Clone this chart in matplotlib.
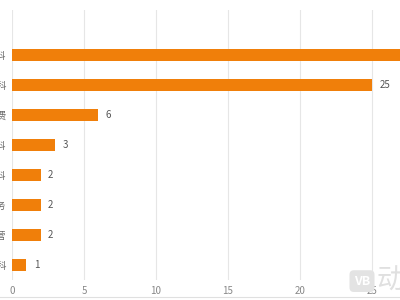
import matplotlib
matplotlib.use('Agg')
import matplotlib.pyplot as plt
import numpy as np

plt.rcParams['font.family'] = ['Noto Sans CJK SC', 'DejaVu Sans']

# Data (labels are cropped in the original; only the last characters show)
categories = ['外科', '内科', '医疗费', '儿科', '妇科', '服务', '经营', '眼科']
values = [30, 25, 6, 3, 2, 2, 2, 1]
xticks = [0, 5, 10, 15, 20, 25]

bar_color = '#F07F0A'

fig = plt.figure(figsize=(4, 3), dpi=100)
# axes runs past the right edge, like the cropped screenshot
ax = fig.add_axes([12 / 400, 20 / 300, 30 * 14.4 / 400, 270 / 300])

y = np.arange(len(categories))
bars = ax.barh(y, values, height=0.37, color=bar_color, zorder=3)

for yy, v in zip(y, values):
    ax.text(v + 0.5, yy, str(v), va='center', ha='left', fontsize=7, color='#555555')

ax.set_xlim(0, 30)
ax.set_ylim(7.5, -1.5)
ax.set_yticks(y)
ax.set_yticklabels(categories, fontsize=7, color='#666666')
ax.set_xticks(xticks)
ax.set_xticklabels([str(t) for t in xticks], fontsize=7, color='#888888')
ax.tick_params(axis='both', length=0, pad=4)
ax.grid(axis='x', color='#e6e6e6', linewidth=0.8, zorder=0)
for s in ax.spines.values():
    s.set_visible(False)

# faint bottom border line and watermark
fig.add_artist(plt.Line2D([0, 1], [0.01, 0.01], color='#e0e0e0', linewidth=0.8))
fig.text(0.905, 0.063, 'VB', fontsize=9, color='white', fontweight='bold',
         ha='center', va='center',
         bbox=dict(boxstyle='round,pad=0.35', fc='#e3e3e3', ec='none'))
fig.text(0.975, 0.063, '动', fontsize=20, color='#e0e0e0', ha='center', va='center')

plt.savefig('out.png', dpi=100)
